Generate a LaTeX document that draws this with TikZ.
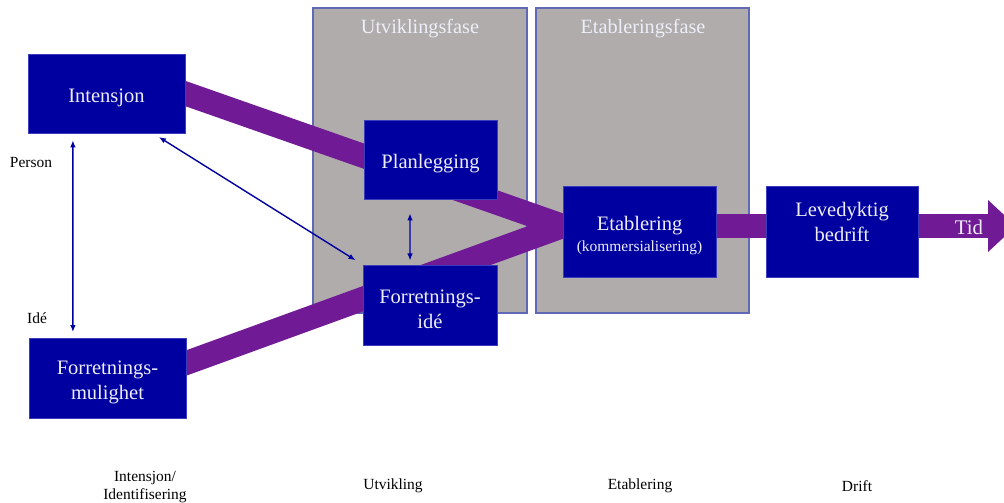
\documentclass[tikz,border=0pt]{standalone}
\usepackage{fontspec}
\setmainfont{Liberation Serif}
\usetikzlibrary{arrows.meta}

\definecolor{boxblue}{RGB}{0,0,160}
\definecolor{boxedge}{RGB}{60,60,190}
\definecolor{boxtext}{RGB}{238,238,248}
\definecolor{flowpurple}{RGB}{112,26,150}
\definecolor{phasegray}{RGB}{176,172,172}
\definecolor{phaseedge}{RGB}{95,105,180}

\pgfdeclarelayer{phases}
\pgfdeclarelayer{flows}
\pgfsetlayers{phases,flows,main}

% taller first line, so the text sits a little lower in its box
\newcommand{\lift}{\rule{0pt}{16pt}}

\tikzset{
  stage/.style={draw=boxedge, fill=boxblue, text=boxtext, align=center, inner sep=0pt,
    font=\fontsize{14.6}{17.5}\selectfont},
  phase/.style={draw=phaseedge, fill=phasegray, line width=0.8pt},
  phasetitle/.style={text=boxtext, font=\fontsize{14.4}{17}\selectfont},
  flow/.style={flowpurple, line width=17pt},
  link/.style={boxblue, line width=1pt, {Latex[length=5pt,width=4pt]}-{Latex[length=5pt,width=4pt]}},
  note/.style={align=center, font=\fontsize{11}{13}\selectfont},
}

\begin{document}
\begin{tikzpicture}[x=0.025cm, y=-0.025cm]
        \useasboundingbox (0, 0) rectangle (1004, 502);
        \clip (0, 0) rectangle (1004, 502);
        % stages
        \node [stage, minimum width=3.925cm, minimum height=1.975cm] at (106.5, 93.5) (intensjon) {\lift Intensjon};
        \node [stage, minimum width=3.925cm, minimum height=2cm] at (107.5, 378) (mulighet) {\lift Forretnings-\\mulighet};
        \node [stage, minimum width=3.325cm, minimum height=1.975cm] at (430.5, 159.5) (planlegging) {\lift Planlegging};
        \node [stage, minimum width=3.35cm, minimum height=2cm] at (430, 305) (ide) {\lift Forretnings-\\idé};
        \node [stage, minimum width=3.825cm, minimum height=2.275cm] at (639.5, 231.5) (etablering) {\lift Etablering\\[-2pt]{\fontsize{11}{13}\selectfont(kommersialisering)}};
        \node [stage, minimum width=3.8cm, minimum height=2.275cm] at (842, 231.5) (levedyktig) {\lift Levedyktig\\bedrift\\[2.5pt]\mbox{}};
        \coordinate (meet) at (563, 226);
        \coordinate (tidbase) at (988, 226);
        % phases
        \begin{pgfonlayer}{phases}
          \draw [phase] (313, 8) rectangle (527, 313);
          \draw [phase] (536, 8) rectangle (749, 313);
        \end{pgfonlayer}
        \node [phasetitle] at (420, 29) (utvfase) {Utviklingsfase};
        \node [phasetitle] at (643, 29) (etabfase) {Etableringsfase};
        % flows
        \begin{pgfonlayer}{flows}
          \draw [flow, shorten <=-10pt, shorten >=-12pt] (intensjon.east) -- (meet);
          \draw [flow, shorten <=-10pt, shorten >=-12pt] ([yshift=10.7pt]mulighet.east) -- (meet);
          \draw [flow] (meet) -- (tidbase);
          \fill [flowpurple] (988, 200) -- (1016, 226) -- (988, 252) -- cycle;
        \end{pgfonlayer}
        \node [text=boxtext, font=\fontsize{14.8}{17}\selectfont] at (969, 227) (tid) {Tid};
        % links
        \draw [link, shorten <=5pt, shorten >=4pt] ([xshift=-23.9pt]intensjon.south) -- ([xshift=-24.6pt]mulighet.north);
        \draw [link, shorten <=5pt, shorten >=6pt] ([xshift=33pt]intensjon.south) -- (ide.north west);
        \draw [link, shorten <=10pt, shorten >=3pt] ([xshift=-14.6pt]planlegging.south) -- ([xshift=-14.2pt]ide.north);
        % notes
        \node [note] at (31, 163) (person) {Person};
        \node [note] at (37, 318) (idenote) {Idé};
        \node [note] at (145, 487) (fase1) {Intensjon/\\Identifisering};
        \node [note] at (393, 486) (fase2) {Utvikling};
        \node [note] at (640, 486) (fase3) {Etablering};
        \node [note] at (857, 486) (fase4) {Drift};
\end{tikzpicture}
\end{document}
